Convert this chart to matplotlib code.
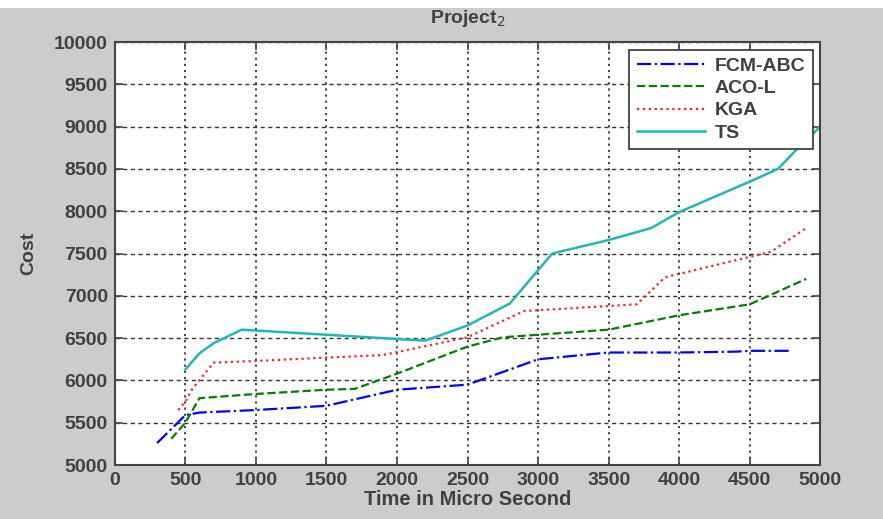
import matplotlib
matplotlib.use("Agg")
import matplotlib.pyplot as plt
from matplotlib.patches import Rectangle

plt.rcParams['font.family'] = ['Liberation Sans', 'DejaVu Sans']

# data
fcm_x = [300, 500, 600, 1000, 1500, 2000, 2500, 3000, 3500, 4000, 4400, 4500, 4800]
fcm_y = [5260, 5590, 5620, 5650, 5700, 5890, 5950, 6250, 6330, 6330, 6340, 6350, 6350]

aco_x = [400, 500, 600, 1000, 1500, 1700, 2000, 2500, 2750, 3000, 3500, 4000, 4500, 4900]
aco_y = [5310, 5500, 5790, 5840, 5890, 5900, 6080, 6400, 6510, 6540, 6600, 6770, 6900, 7200]

kga_x = [450, 500, 550, 700, 1000, 1500, 1900, 2500, 2900, 3000, 3500, 3700, 3900, 4000, 4500, 4650, 4900]
kga_y = [5650, 5750, 5900, 6210, 6230, 6270, 6300, 6510, 6820, 6830, 6880, 6900, 7220, 7260, 7460, 7520, 7800]

ts_x = [500, 600, 700, 900, 1000, 1500, 2000, 2200, 2500, 2800, 3100, 3500, 3800, 4000, 4500, 4700, 4850, 5000]
ts_y = [6130, 6320, 6440, 6600, 6590, 6540, 6490, 6470, 6650, 6910, 7500, 7660, 7800, 7990, 8350, 8500, 8760, 9000]

xticks = [0, 500, 1000, 1500, 2000, 2500, 3000, 3500, 4000, 4500, 5000]
yticks = [5000, 5500, 6000, 6500, 7000, 7500, 8000, 8500, 9000, 9500, 10000]

txt = '#404040'

fig = plt.figure(figsize=(8.83, 5.19), dpi=100, facecolor='#cccccc')
# thin white strip along the top of the screenshot
fig.patches.append(Rectangle((0, 0.985), 1, 0.02, transform=fig.transFigure,
                             facecolor='white', edgecolor='none', zorder=-1))
ax = fig.add_axes([0.130, 0.104, 0.799, 0.815])
ax.set_facecolor('white')

ax.plot(fcm_x, fcm_y, color='#0000ff', linestyle='-.', linewidth=1.6, label='FCM-ABC')
ax.plot(aco_x, aco_y, color='#008000', linestyle='--', linewidth=1.6, label='ACO-L')
ax.plot(kga_x, kga_y, color='#ff2020', linestyle=':', linewidth=1.6, label='KGA')
ax.plot(ts_x, ts_y, color='#1fb8b8', linestyle='-', linewidth=1.8, label='TS')

ax.set_xlim(0, 5000)
ax.set_ylim(5000, 10000)
ax.set_xticks(xticks)
ax.set_yticks(yticks)

ax.yaxis.grid(True, linestyle=(0, (3, 2.5)), color='#333333', linewidth=1.0)
ax.xaxis.grid(True, linestyle=(0, (1.2, 2.2)), color='#333333', linewidth=1.3)

for s in ax.spines.values():
    s.set_color('#444444')
    s.set_linewidth(1.5)
ax.tick_params(direction='in', length=6, width=1.2, color='#444444',
               top=True, right=True, labelsize=14, labelcolor=txt, pad=5)
for lab in ax.get_xticklabels() + ax.get_yticklabels():
    lab.set_fontweight('bold')

ax.set_xlabel('Time in Micro Second', fontsize=14.5, fontweight='bold', color=txt, labelpad=1)
ax.set_ylabel('Cost', fontsize=14, fontweight='bold', color=txt, labelpad=12)
ax.set_title('Project$_2$', fontsize=14, fontweight='bold', color=txt, pad=14)

leg = ax.legend(loc='upper right', prop={'size': 14, 'weight': 'bold'}, handlelength=3.5,
                fancybox=False, framealpha=1, edgecolor='#333333', borderaxespad=0.4,
                labelspacing=0.24, handletextpad=0.5, borderpad=0.38)
leg.get_frame().set_linewidth(1.2)
for t in leg.get_texts():
    t.set_color(txt)

fig.savefig('out.png', dpi=100, facecolor=fig.get_facecolor())
